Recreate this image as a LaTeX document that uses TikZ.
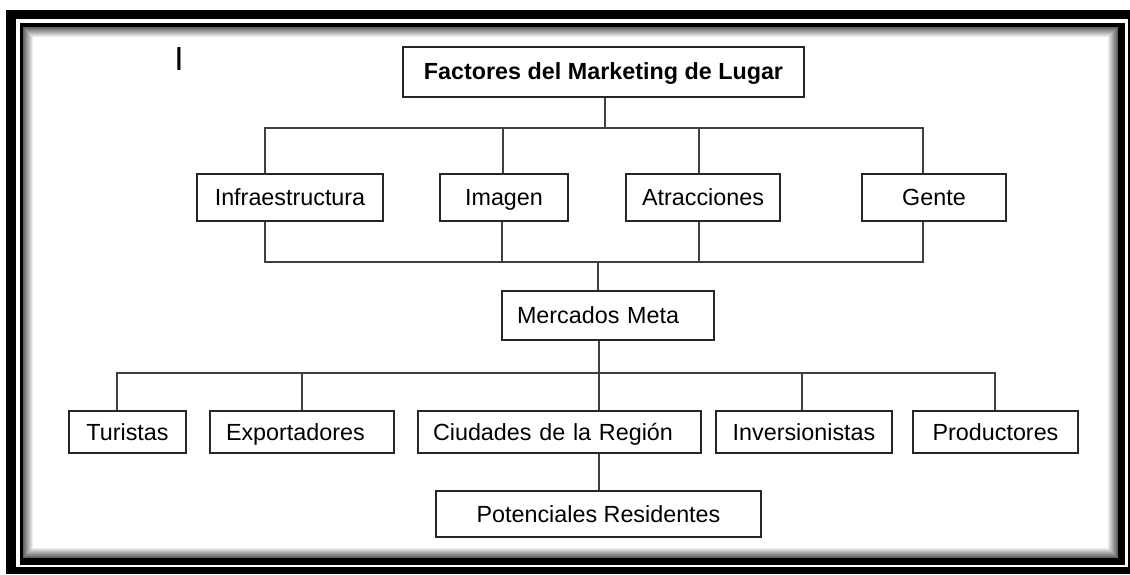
\documentclass[tikz,border=0pt]{standalone}
\usepackage{fontspec}
\setmainfont{Liberation Sans}
\begin{document}
\begin{tikzpicture}[x=0.75pt,y=-0.75pt,
    caja/.style={draw=black!85,line width=1.5pt,fill=white,inner sep=0pt,text height=15pt,text depth=3pt,font=\fontsize{17.5}{21}\selectfont},
    izq/.style={align=left,inner xsep=11.25pt},
    linea/.style={draw=black!75,line width=1.5pt}]

	\useasboundingbox (0,0) rectangle (1130,574);
	
	% marco
	\fill[black] (6,10) rectangle (1130,574);
	\fill[white] (16,19) rectangle (1128,567);
	\fill[black] (20,23) rectangle (1125,565);
	\fill[white] (23,27) rectangle (1118,558);
	\foreach \i [evaluate=\i as \g using {62-6*\i}] in {0,...,9}
		\draw[black!\g,line width=0.8pt] (23.5+\i,27.5+\i) rectangle (1117.5-\i,557.5-\i);
	
	\draw (179,59) node[name=marca,inner sep=0pt,font=\fontsize{25}{30}\selectfont] {I};
	
	%
	\draw (603.5,72) node[name=Tit,caja,minimum width=300.75pt,minimum height=37.5pt] {\textbf{Factores del Marketing de Lugar}};
	%
	\draw (290,197.5) node[name=Inf,caja,minimum width=139.5pt,minimum height=35.25pt] {Infraestructura};
	\draw (504,197.5) node[name=Ima,caja,minimum width=96pt,minimum height=35.25pt] {Imagen};
	\draw (703,197.5) node[name=Atr,caja,minimum width=115.5pt,minimum height=35.25pt] {Atracciones};
	\draw (934,197.5) node[name=Gen,caja,minimum width=108pt,minimum height=35.25pt] {Gente};
	%
	\draw (608,315.5) node[name=Mer,caja,izq,text width=136.5pt,minimum height=36.75pt] {Mercados Meta};
	%
	\draw (127.5,432) node[name=Tur,caja,minimum width=87.75pt,minimum height=31.5pt] {Turistas};
	\draw (302,432) node[name=Exp,caja,izq,inner xsep=12pt,text width=114pt,minimum height=31.5pt] {Exportadores};
	\draw (559.5,432) node[name=Ciu,caja,izq,text width=189.75pt,minimum height=31.5pt] {Ciudades de la Región};
	\draw (804,432) node[name=Inv,caja,minimum width=132pt,minimum height=31.5pt] {Inversionistas};
	\draw (995.5,432) node[name=Pro,caja,minimum width=123.75pt,minimum height=31.5pt] {Productores};
	%
	\draw (598.5,514) node[name=Pot,caja,minimum width=243.75pt,minimum height=34.5pt] {Potenciales Residentes};
	
	% conectores
	\coordinate (bA) at (605,128);
	\coordinate (dInf) at (265,128);
	\coordinate (dIma) at (503,128);
	\coordinate (dAtr) at (699,128);
	\coordinate (dGen) at (923,128);
	\draw[linea] (Tit.south -| bA) -- (bA);
	\draw[linea] (dInf |- Inf.north) -- (dInf) -- (dGen) -- (dGen |- Gen.north);
	\draw[linea] (dIma) -- (dIma |- Ima.north);
	\draw[linea] (dAtr) -- (dAtr |- Atr.north);
	%
	\coordinate (bB) at (598,262);
	\coordinate (uInf) at (265,262);
	\coordinate (uIma) at (502,262);
	\coordinate (uAtr) at (699,262);
	\coordinate (uGen) at (923,262);
	\draw[linea] (Inf.south -| uInf) -- (uInf) -- (uGen) -- (Gen.south -| uGen);
	\draw[linea] (Ima.south -| uIma) -- (uIma);
	\draw[linea] (Atr.south -| uAtr) -- (uAtr);
	\draw[linea] (bB) -- (Mer.north -| bB);
	%
	\coordinate (bC) at (598.5,373);
	\coordinate (dTur) at (117,373);
	\coordinate (dExp) at (302,373);
	\coordinate (dInv) at (802,373);
	\coordinate (dPro) at (995,373);
	\draw[linea] (Mer.south -| bC) -- (bC);
	\draw[linea] (dTur |- Tur.north) -- (dTur) -- (dPro) -- (dPro |- Pro.north);
	\draw[linea] (dExp) -- (dExp |- Exp.north);
	\draw[linea] (bC) -- (Ciu.north -| bC);
	\draw[linea] (dInv) -- (dInv |- Inv.north);
	\draw[linea] (Ciu.south -| bC) -- (Pot.north -| bC);
	
\end{tikzpicture}
\end{document}
